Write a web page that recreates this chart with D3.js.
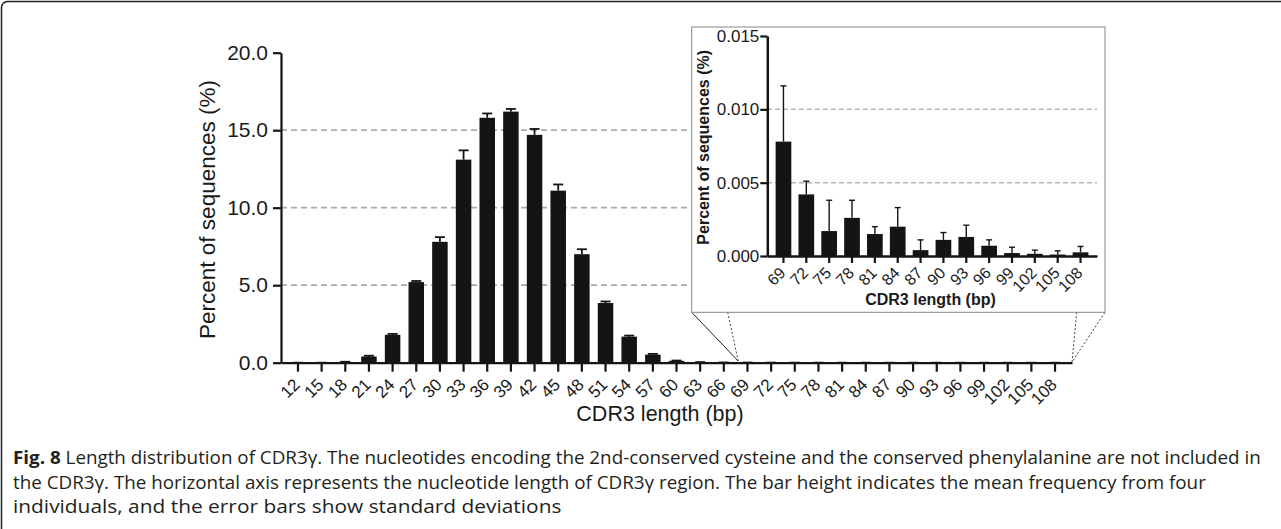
<!DOCTYPE html>
<html>
<head>
<meta charset="utf-8">
<script src="https://cdn.jsdelivr.net/npm/d3@7/dist/d3.min.js"></script>
<style>
  html, body { margin: 0; padding: 0; background: #fff; }
  svg { display: block; }
</style>
</head>
<body>
<svg id="chart" width="1281" height="529"></svg>
<script>
// ---------- DATA ----------
const lengths = [12,15,18,21,24,27,30,33,36,39,42,45,48,51,54,57,60,63,66,69,72,75,78,81,84,87,90,93,96,99,102,105,108];
const insetLengths = [69,72,75,78,81,84,87,90,93,96,99,102,105,108];
const insetMean = [0.0078,0.0042,0.0017,0.0026,0.0015,0.0020,0.0004,0.0011,0.0013,0.0007,0.0002,0.00015,0.0001,0.00025];
const insetSD   = [0.0038,0.0009,0.0021,0.0012,0.0005,0.0013,0.0007,0.0005,0.0008,0.0004,0.0004,0.00025,0.00025,0.0004];
const mainMeanShort = [0,0,0.05,0.4,1.8,5.2,7.8,13.1,15.8,16.2,14.7,11.1,7.0,3.85,1.68,0.52,0.12,0.03,0.01];
const mainSDShort   = [0,0,0.01,0.05,0.06,0.07,0.3,0.6,0.28,0.17,0.38,0.4,0.32,0.1,0.07,0.05,0.02,0.01,0.005];
const mainMean = mainMeanShort.concat(insetMean);
const mainSD = mainSDShort.concat(insetSD);
const mainYTicks = [0,5,10,15,20];
const insetYTicks = [0,0.005,0.010,0.015];
const gridMain = [5,10,15];
const gridInset = [0.005,0.010];
const yTitle = "Percent of sequences (%)";
const xTitle = "CDR3 length (bp)";
const captionBold = "Fig. 8";
const captionLines = [
  " Length distribution of CDR3\u03b3. The nucleotides encoding the 2nd-conserved cysteine and the conserved phenylalanine are not included in",
  "the CDR3\u03b3. The horizontal axis represents the nucleotide length of CDR3\u03b3 region. The bar height indicates the mean frequency from four",
  "individuals, and the error bars show standard deviations"
];

const svg = d3.select("#chart");
const FONT = "'Liberation Sans', Arial, Helvetica, sans-serif";
const INK = "#141414";

// outer frame
svg.append("rect").attr("x",1.5).attr("y",1.5).attr("width",1300).attr("height",600)
  .attr("rx",6).attr("fill","none").attr("stroke","#222").attr("stroke-width",1.5);

// ---------- MAIN CHART ----------
const mainData = lengths.map((l,i)=>({l, m: mainMean[i], sd: mainSD[i]}));
const x = d3.scaleBand().domain(lengths).range([281,1072]).paddingInner(0.345).paddingOuter(0.39);
const y = d3.scaleLinear().domain([0,20]).range([362.7,52.7]);

const g = svg.append("g");
g.selectAll(".grid").data(gridMain).enter().append("line")
  .attr("x1",281).attr("x2",1072).attr("y1",d=>y(d)).attr("y2",d=>y(d))
  .attr("stroke","#aaaaaa").attr("stroke-width",1.8).attr("stroke-dasharray","6,4");

// error bars
const eb = g.selectAll(".eb").data(mainData).enter().append("g");
eb.append("line").attr("x1",d=>x(d.l)+x.bandwidth()/2).attr("x2",d=>x(d.l)+x.bandwidth()/2)
  .attr("y1",d=>y(d.m)).attr("y2",d=>y(d.m+d.sd)).attr("stroke",INK).attr("stroke-width",1.8);
eb.append("line").attr("x1",d=>x(d.l)+x.bandwidth()/2-5).attr("x2",d=>x(d.l)+x.bandwidth()/2+5)
  .attr("y1",d=>y(d.m+d.sd)).attr("y2",d=>y(d.m+d.sd)).attr("stroke",INK).attr("stroke-width",1.8);
g.selectAll(".bar").data(mainData).enter().append("rect")
  .attr("x",d=>x(d.l)).attr("width",x.bandwidth())
  .attr("y",d=>y(d.m)).attr("height",d=>y(0)-y(d.m)).attr("fill",INK);

// axes
const yAxis = g.append("g").attr("transform","translate(281,0)")
  .call(d3.axisLeft(y).tickValues(mainYTicks).tickFormat(d3.format(".1f")).tickSize(8).tickSizeOuter(0).tickPadding(5));
const xAxis = g.append("g").attr("transform","translate(0,362.7)")
  .call(d3.axisBottom(x).tickSize(9).tickSizeOuter(0));
[yAxis,xAxis].forEach(a=>{
  a.select(".domain").attr("stroke",INK).attr("stroke-width",2.2);
  a.selectAll(".tick line").attr("stroke",INK).attr("stroke-width",2.2);
  a.selectAll("text").attr("fill","#1a1a1a").style("font-family",FONT);
});
yAxis.selectAll("text").style("font-size","21px");
xAxis.selectAll(".tick text")
  .style("font-size","17px").attr("text-anchor","end")
  .attr("x",0).attr("y",0).attr("dy",0)
  .attr("transform","translate(3,23) rotate(-45)");

g.append("text").attr("transform","translate(215,209.5) rotate(-90)")
  .attr("text-anchor","middle").style("font-family",FONT).style("font-size","22.5px")
  .attr("fill","#1a1a1a").text(yTitle);
g.append("text").attr("x",660).attr("y",421)
  .attr("text-anchor","middle").style("font-family",FONT).style("font-size","21.5px")
  .attr("fill","#1a1a1a").text(xTitle);

// ---------- INSET ----------
// connector lines
svg.append("line").attr("x1",691.7).attr("y1",312.3).attr("x2",x(69)-1.5).attr("y2",361)
  .attr("stroke","#222").attr("stroke-width",1);
svg.append("line").attr("x1",727.7).attr("y1",312.3).attr("x2",x(69)-1.5).attr("y2",361)
  .attr("stroke","#444").attr("stroke-width",1).attr("stroke-dasharray","2,2");
svg.append("line").attr("x1",1076.7).attr("y1",312.3).attr("x2",1072).attr("y2",362)
  .attr("stroke","#444").attr("stroke-width",1).attr("stroke-dasharray","2,2");
svg.append("line").attr("x1",1105).attr("y1",312.3).attr("x2",1072).attr("y2",362)
  .attr("stroke","#444").attr("stroke-width",1).attr("stroke-dasharray","2,2");

svg.append("rect").attr("x",691.7).attr("y",27).attr("width",1105-691.7).attr("height",312.3-27)
  .attr("fill","#fff").attr("stroke","#888").attr("stroke-width",1);

const insetData = insetLengths.map((l,i)=>({l, m: insetMean[i], sd: insetSD[i]}));
const xi = d3.scaleBand().domain(insetLengths).range([767,1097]).paddingInner(0.313).paddingOuter(0.377);
const yi = d3.scaleLinear().domain([0,0.015]).range([256,36]);
const gi = svg.append("g");
gi.selectAll(".grid").data(gridInset).enter().append("line")
  .attr("x1",767).attr("x2",1097).attr("y1",d=>yi(d)).attr("y2",d=>yi(d))
  .attr("stroke","#b5b5b5").attr("stroke-width",1.5).attr("stroke-dasharray","5,3");
const ebi = gi.selectAll(".eb").data(insetData).enter().append("g");
ebi.append("line").attr("x1",d=>xi(d.l)+xi.bandwidth()/2).attr("x2",d=>xi(d.l)+xi.bandwidth()/2)
  .attr("y1",d=>yi(d.m)).attr("y2",d=>yi(d.m+d.sd)).attr("stroke",INK).attr("stroke-width",1.4);
ebi.append("line").attr("x1",d=>xi(d.l)+xi.bandwidth()/2-3).attr("x2",d=>xi(d.l)+xi.bandwidth()/2+3)
  .attr("y1",d=>yi(d.m+d.sd)).attr("y2",d=>yi(d.m+d.sd)).attr("stroke",INK).attr("stroke-width",1.4);
gi.selectAll(".bar").data(insetData).enter().append("rect")
  .attr("x",d=>xi(d.l)).attr("width",xi.bandwidth())
  .attr("y",d=>yi(d.m)).attr("height",d=>yi(0)-yi(d.m)).attr("fill",INK);

const yiAxis = gi.append("g").attr("transform","translate(767.3,0)")
  .call(d3.axisLeft(yi).tickValues(insetYTicks).tickFormat(d3.format(".3f")).tickSize(7).tickSizeOuter(0).tickPadding(1));
const xiAxis = gi.append("g").attr("transform","translate(0,256)")
  .call(d3.axisBottom(xi).tickSize(7).tickSizeOuter(0));
[yiAxis,xiAxis].forEach(a=>{
  a.select(".domain").attr("stroke",INK).attr("stroke-width",2.5);
  a.selectAll(".tick line").attr("stroke",INK).attr("stroke-width",2.2);
  a.selectAll("text").attr("fill","#1a1a1a").style("font-family",FONT);
});
yiAxis.selectAll("text").style("font-size","17px");
xiAxis.selectAll(".tick text")
  .style("font-size","16px").attr("text-anchor","end")
  .attr("x",0).attr("y",0).attr("dy",0)
  .attr("transform","translate(3,18) rotate(-45)");

gi.append("text").attr("transform","translate(709,147.3) rotate(-90)")
  .attr("text-anchor","middle").style("font-family",FONT).style("font-size","16px")
  .style("font-weight","bold").attr("fill","#1a1a1a").text(yTitle);
gi.append("text").attr("x",930.5).attr("y",305)
  .attr("text-anchor","middle").style("font-family",FONT).style("font-size","16px")
  .style("font-weight","bold").attr("fill","#1a1a1a").text(xTitle);

// ---------- CAPTION ----------
const CAPFONT = "'Open Sans', 'Noto Sans', sans-serif";
const capX = 13;
const capRights = [1262, 1207, 562];
const baselines = [464, 489, 513];
const capG = svg.append("g").style("font-family",CAPFONT).attr("fill","#231f20");
captionLines.forEach((t,i)=>{
  const tx = capG.append("text").attr("x",capX).attr("y",baselines[i]).style("font-size","18.5px");
  if (i===0) tx.append("tspan").style("font-weight","bold").text(captionBold);
  tx.append("tspan").text(t);
  const w = tx.node().getComputedTextLength();
  const sx = (capRights[i]-capX)/w;
  tx.attr("x",0).attr("transform",`translate(${capX},0) scale(${sx.toFixed(4)},1)`);
});
</script>
</body>
</html>
